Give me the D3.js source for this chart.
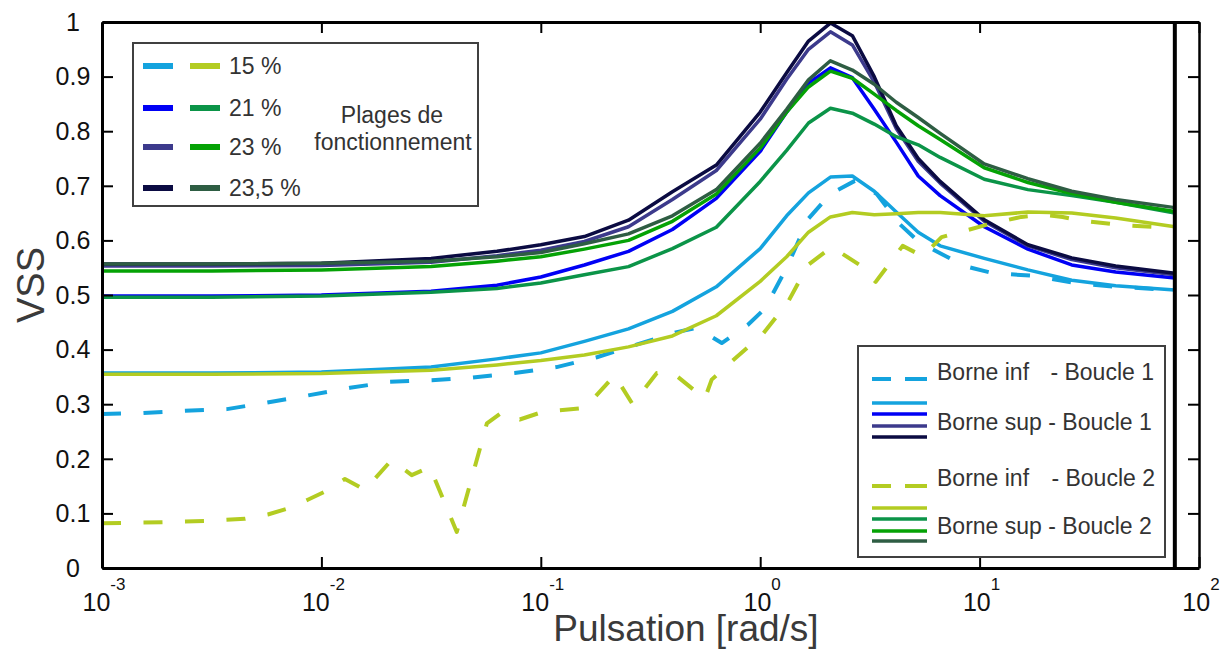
<!DOCTYPE html>
<html><head><meta charset="utf-8">
<script src="https://cdn.jsdelivr.net/npm/d3@7"></script>
<style>body{margin:0;background:#fff;} svg{display:block;font-family:Arial,"Liberation Sans",sans-serif;}</style>
</head><body><svg id="chart" width="1223" height="650"></svg>
<script>
// ---------- DATA ----------
// shared frequency grid (rad/s) for the upper bounds
const pulsation = [0.001,0.00316,0.01,0.0316,0.0631,0.1,0.158,0.251,0.398,0.631,1,1.32,1.66,2.09,2.63,3.31,4.17,5.25,6.61,10.5,16.6,26.3,41.7,77.6];
// Borne sup - Boucle 1
const supB1_15  = [0.357,0.357,0.359,0.368,0.383,0.394,0.415,0.438,0.470,0.515,0.585,0.645,0.687,0.716,0.718,0.690,0.652,0.615,0.590,0.567,0.546,0.527,0.517,0.509];
const supB1_21  = [0.498,0.498,0.500,0.507,0.518,0.533,0.555,0.580,0.620,0.677,0.763,0.835,0.888,0.916,0.898,0.840,0.780,0.718,0.682,0.625,0.584,0.555,0.542,0.531];
const supB1_23  = [0.553,0.553,0.554,0.560,0.572,0.582,0.598,0.625,0.675,0.728,0.822,0.895,0.950,0.982,0.958,0.890,0.805,0.745,0.705,0.635,0.590,0.565,0.550,0.537];
const supB1_235 = [0.557,0.557,0.558,0.567,0.580,0.592,0.607,0.637,0.689,0.738,0.835,0.907,0.965,0.998,0.975,0.900,0.810,0.750,0.708,0.638,0.592,0.568,0.553,0.540];
// Borne sup - Boucle 2
const supB2_15  = [0.355,0.355,0.356,0.362,0.372,0.380,0.390,0.405,0.425,0.462,0.525,0.570,0.615,0.643,0.651,0.647,0.649,0.651,0.651,0.645,0.652,0.650,0.641,0.625];
const supB2_21  = [0.496,0.496,0.498,0.505,0.512,0.522,0.537,0.552,0.585,0.624,0.708,0.765,0.815,0.842,0.833,0.813,0.790,0.775,0.752,0.712,0.693,0.682,0.670,0.650];
const supB2_23  = [0.544,0.544,0.546,0.552,0.562,0.570,0.584,0.600,0.635,0.685,0.769,0.835,0.881,0.910,0.897,0.868,0.838,0.810,0.785,0.733,0.706,0.686,0.670,0.653];
const supB2_235 = [0.557,0.557,0.558,0.562,0.570,0.578,0.594,0.612,0.645,0.693,0.778,0.840,0.894,0.929,0.912,0.886,0.853,0.825,0.796,0.740,0.713,0.690,0.675,0.660];
// Borne inf - Boucle 1
const pulsationInfB1 = [0.001,0.00154,0.00239,0.00371,0.00564,0.00867,0.0135,0.0205,0.0318,0.049,0.076,0.118,0.18,0.273,0.417,0.514,0.668,0.877,1.05,1.32,1.66,2.09,2.7,3.4,4.32,5.33,6.64,8.54,11.5,17.8,27.1,42.1,77.3];
const infB1 = [0.282,0.284,0.288,0.291,0.303,0.316,0.330,0.341,0.344,0.349,0.357,0.368,0.386,0.409,0.432,0.440,0.412,0.445,0.475,0.550,0.640,0.685,0.709,0.685,0.630,0.596,0.576,0.553,0.540,0.535,0.522,0.515,0.509];
// Borne inf - Boucle 2
const pulsationInfB2 = [0.001,0.00188,0.00294,0.00448,0.0057,0.00718,0.00867,0.0104,0.0128,0.0158,0.0209,0.0258,0.0312,0.0414,0.0568,0.0671,0.0802,0.102,0.159,0.217,0.262,0.338,0.395,0.559,0.601,0.726,1.02,1.33,1.65,2.12,2.84,3.36,4.46,5.5,6.71,8.11,11.1,15.5,19.2,23.9,29.2,44.8,77.3];
const infB2 = [0.082,0.084,0.086,0.090,0.098,0.110,0.125,0.140,0.163,0.143,0.198,0.170,0.185,0.066,0.265,0.286,0.272,0.286,0.293,0.353,0.300,0.357,0.359,0.310,0.345,0.375,0.427,0.485,0.555,0.588,0.555,0.524,0.590,0.571,0.606,0.615,0.630,0.643,0.647,0.643,0.636,0.628,0.623];

const yTickValues = [0,0.1,0.2,0.3,0.4,0.5,0.6,0.7,0.8,0.9,1];
const xTickExponents = [-3,-2,-1,0,1,2];
const plageLabels = ["15 %","21 %","23 %","23,5 %"];
const colorsB1 = ["#14a3de","#0000f5","#3c3a8c","#0b0b42"];
const colorsB2 = ["#b3cc22","#0b9448","#05a205","#2e5d43"];

// ---------- CHART ----------
const svg = d3.select("#chart");
const x = d3.scaleLog().domain([1e-3,1e2]).range([102,1199]);
const y = d3.scaleLinear().domain([0,1]).range([568,22]);
const line = d3.line().x(d=>x(d[0])).y(d=>y(d[1]));

const series = [
  {xs:pulsationInfB1, ys:infB1, color:colorsB1[0], dash:true},
  {xs:pulsation, ys:supB1_15, color:colorsB1[0]},
  {xs:pulsation, ys:supB1_21, color:colorsB1[1]},
  {xs:pulsation, ys:supB1_23, color:colorsB1[2]},
  {xs:pulsation, ys:supB1_235, color:colorsB1[3]},
  {xs:pulsationInfB2, ys:infB2, color:colorsB2[0], dash:true},
  {xs:pulsation, ys:supB2_15, color:colorsB2[0]},
  {xs:pulsation, ys:supB2_21, color:colorsB2[1]},
  {xs:pulsation, ys:supB2_23, color:colorsB2[2]},
  {xs:pulsation, ys:supB2_235, color:colorsB2[3]}
];
const gl = svg.append("g");
series.forEach(s=>{
  gl.append("path").datum(s.xs.map((w,i)=>[w,s.ys[i]]))
    .attr("d",line).attr("fill","none").attr("stroke",s.color)
    .attr("stroke-width",s.dash?4:3.5)
    .attr("stroke-dasharray",s.dash?"19,22.5":null)
    .attr("stroke-linejoin","round");
});

// end-of-data thick line
const xEnd = d3.max(pulsation);
svg.append("line").attr("x1",x(xEnd)).attr("x2",x(xEnd)).attr("y1",y(1)).attr("y2",y(0))
  .attr("stroke","#000").attr("stroke-width",4);

// axes
const decades = xTickExponents.map(e=>Math.pow(10,e));
function styleAxis(g,w){g.select(".domain").attr("stroke","#000").attr("stroke-width",w);g.selectAll(".tick line").attr("stroke","#000").attr("stroke-width",2);g.selectAll(".tick text").remove();}
svg.append("g").attr("transform","translate(102,0)")
  .call(d3.axisLeft(y).tickValues(yTickValues).tickSizeInner(-11).tickSizeOuter(0)).call(g=>styleAxis(g,3));
svg.append("g").attr("transform","translate(1199,0)")
  .call(d3.axisRight(y).tickValues(yTickValues).tickSizeInner(-11).tickSizeOuter(0)).call(g=>styleAxis(g,2.5));
svg.append("g").attr("transform","translate(0,568)")
  .call(d3.axisBottom(x).tickValues(decades).tickSizeInner(-11).tickSizeOuter(0)).call(g=>styleAxis(g,3));
svg.append("g").attr("transform","translate(0,22)")
  .call(d3.axisTop(x).tickValues(decades).tickSizeInner(-11).tickSizeOuter(0)).call(g=>styleAxis(g,3));

// y tick labels
svg.append("g").selectAll("text").data(yTickValues).join("text")
  .attr("x",73).attr("y",d=>y(d)).attr("dy","0.35em").attr("text-anchor","middle")
  .style("font-size","25px").attr("fill","#111").text(d=>d3.format("~g")(d));
// x tick labels
xTickExponents.forEach(e=>{
  const t = svg.append("text").attr("x",x(Math.pow(10,e))+2).attr("y",611).attr("text-anchor","middle").attr("fill","#111");
  t.append("tspan").style("font-size","25px").text("10");
  t.append("tspan").attr("dy",-21).style("font-size","17px").text(String(e));
});

// titles
svg.append("text").attr("transform","translate(44,285) rotate(-90)").attr("text-anchor","middle")
  .style("font-size","38px").attr("fill","#3a3a3a").text("VSS");
svg.append("text").attr("x",686).attr("y",641).attr("text-anchor","middle")
  .style("font-size","37px").attr("fill","#3a3a3a").text("Pulsation [rad/s]");

// legend 1
const L1 = svg.append("g");
L1.append("rect").attr("x",133).attr("y",43).attr("width",345).attr("height",163)
  .attr("fill","#fff").attr("stroke","#404040").attr("stroke-width",2);
const l1y = [66,108,147,188];
plageLabels.forEach((lab,i)=>{
  L1.append("line").attr("x1",143).attr("x2",173).attr("y1",l1y[i]).attr("y2",l1y[i]).attr("stroke",colorsB1[i]).attr("stroke-width",6);
  L1.append("line").attr("x1",190).attr("x2",220).attr("y1",l1y[i]).attr("y2",l1y[i]).attr("stroke",colorsB2[i]).attr("stroke-width",6);
  L1.append("text").attr("x",229).attr("y",l1y[i]).attr("dy","0.35em").style("font-size","23px").attr("fill","#333").text(lab);
});
L1.append("text").attr("x",392).attr("y",115).attr("dy","0.35em").attr("text-anchor","middle").style("font-size","23px").attr("fill","#333").text("Plages de");
L1.append("text").attr("x",393).attr("y",142).attr("dy","0.35em").attr("text-anchor","middle").style("font-size","23px").attr("fill","#333").text("fonctionnement");

// legend 2
const L2 = svg.append("g");
L2.append("rect").attr("x",858).attr("y",346).attr("width",307).attr("height",211)
  .attr("fill","#fff").attr("stroke","#404040").attr("stroke-width",2);
function dashedSwatch(yy,c){
  L2.append("line").attr("x1",872).attr("x2",891).attr("y1",yy).attr("y2",yy).attr("stroke",c).attr("stroke-width",4);
  L2.append("line").attr("x1",905).attr("x2",927).attr("y1",yy).attr("y2",yy).attr("stroke",c).attr("stroke-width",4);
}
function solidSwatches(ys,cs){ys.forEach((yy,i)=>L2.append("line").attr("x1",872).attr("x2",927).attr("y1",yy).attr("y2",yy).attr("stroke",cs[i]).attr("stroke-width",3.5));}
function ltext(xx,yy,t,anchor){L2.append("text").attr("x",xx).attr("y",yy).attr("dy","0.35em").attr("text-anchor",anchor||"start").style("font-size","23px").attr("fill","#333").text(t);}
dashedSwatch(379,colorsB1[0]);
ltext(937,372,"Borne inf"); ltext(1154,372,"- Boucle 1","end");
solidSwatches([403,414,426,437],colorsB1);
ltext(937,422,"Borne sup - Boucle 1");
dashedSwatch(486,colorsB2[0]);
ltext(937,478,"Borne inf"); ltext(1155,478,"- Boucle 2","end");
solidSwatches([508,519,531,541],colorsB2);
ltext(937,526,"Borne sup - Boucle 2");
</script></body></html>
